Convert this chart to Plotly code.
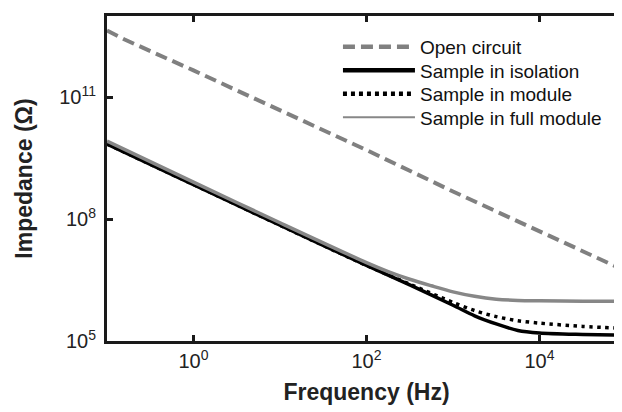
import plotly.graph_objects as go

# Frequencies (Hz)
freq_open = [0.1, 0.16, 1, 10, 100, 1000, 1e4, 1e5]
z_open = [4.37e12, 2.63e12, 4.57e11, 4.79e10, 5.01e9, 4.79e8, 5.01e7, 5.25e6]

freq_iso = [0.1, 1, 10, 100, 316, 1000, 1778, 3162, 5623, 1e4, 31623, 1e5]
z_iso = [7.08e9, 7.08e8, 7.08e7, 7.24e6, 2.40e6, 7.59e5, 4.17e5, 2.63e5, 1.82e5, 1.58e5, 1.45e5, 1.38e5]

freq_mod = [0.1, 1, 10, 100, 316, 1000, 1778, 3162, 5623, 1e4, 31623, 1e5]
z_mod = [7.08e9, 7.08e8, 7.08e7, 7.24e6, 2.51e6, 8.91e5, 5.62e5, 3.98e5, 3.16e5, 2.75e5, 2.29e5, 2.04e5]

freq_full = [0.1, 1, 10, 100, 178, 316, 562, 1000, 1778, 3162, 5623, 1e4, 31623, 1e5]
z_full = [8.32e9, 8.13e8, 8.13e7, 8.51e6, 5.13e6, 3.31e6, 2.29e6, 1.62e6, 1.26e6, 1.07e6, 1.0e6, 9.77e5, 9.55e5, 9.55e5]

names = ["Open circuit", "Sample in isolation", "Sample in module", "Sample in full module"]

x_tickvals = [1, 100, 1e4]
x_ticktext = ["10<sup>0</sup>", "10<sup>2</sup>", "10<sup>4</sup>"]
y_tickvals = [1e5, 1e8, 1e11]
y_ticktext = ["10<sup>5</sup>", "10<sup>8</sup>", "10<sup>11</sup>"]

FONT = "Liberation Sans, Arial, Helvetica, sans-serif"
GRAY = "#808080"

fig = go.Figure()
fig.add_trace(go.Scatter(x=freq_open, y=z_open, mode="lines", name=names[0], showlegend=False,
                         line=dict(color=GRAY, width=4, dash="12px,6px")))
fig.add_trace(go.Scatter(x=freq_iso, y=z_iso, mode="lines", name=names[1], showlegend=False,
                         line=dict(color="#000000", width=3.5, shape="spline", smoothing=0.8)))
fig.add_trace(go.Scatter(x=freq_mod, y=z_mod, mode="lines", name=names[2], showlegend=False,
                         line=dict(color="#000000", width=3.5, dash="3.5px,4.5px", shape="spline", smoothing=0.8)))
fig.add_trace(go.Scatter(x=freq_full, y=z_full, mode="lines", name=names[3], showlegend=False,
                         line=dict(color="#878787", width=3.5, shape="spline", smoothing=0.8)))

# legend entries, one small legend per row so the row spacing matches
legend_styles = [
    dict(color=GRAY, width=4.5, dash="12px,6px"),
    dict(color="#000000", width=4.5),
    dict(color="#000000", width=4.5, dash="4px,4px"),
    dict(color="#878787", width=1.8),
]
legend_ids = ["legend", "legend2", "legend3", "legend4"]
for nm, st, lid in zip(names, legend_styles, legend_ids):
    fig.add_trace(go.Scatter(x=[None], y=[None], mode="lines", name=nm, line=st,
                             showlegend=True, legend=lid))

axis_common = dict(
    type="log", showgrid=False, zeroline=False, automargin=False,
    showline=True, linecolor="#1a1a1a", linewidth=3, mirror="ticks",
    ticks="inside", ticklen=6, tickwidth=3, tickcolor="#1a1a1a",
    tickfont=dict(family=FONT, size=20, color="#222"),
)

legend_common = dict(x=0.445, xanchor="left", yanchor="middle", bgcolor="rgba(0,0,0,0)",
                     font=dict(family=FONT, size=19, color="#111"), itemwidth=72)
row_y = [0.905, 0.833, 0.760, 0.688]

fig.update_layout(
    width=622, height=412, autosize=False,
    margin=dict(l=99, r=4, t=8, b=79),
    paper_bgcolor="white", plot_bgcolor="white",
    font=dict(family=FONT, color="#111"),
    xaxis=dict(axis_common, range=[-1, 5], tickvals=x_tickvals, ticktext=x_ticktext,
               title=dict(text="<b>Frequency (Hz)</b>", font=dict(family=FONT, size=23, color="#222"), standoff=13)),
    yaxis=dict(axis_common, range=[5, 13], tickvals=y_tickvals, ticktext=y_ticktext, ticklabelstandoff=4,
               title=dict(text="<b>Impedance (Ω)</b>", font=dict(family=FONT, size=23, color="#222"), standoff=21)),
    legend=dict(legend_common, y=row_y[0]),
    legend2=dict(legend_common, y=row_y[1]),
    legend3=dict(legend_common, y=row_y[2]),
    legend4=dict(legend_common, y=row_y[3]),
)

fig.write_html("out.html")
